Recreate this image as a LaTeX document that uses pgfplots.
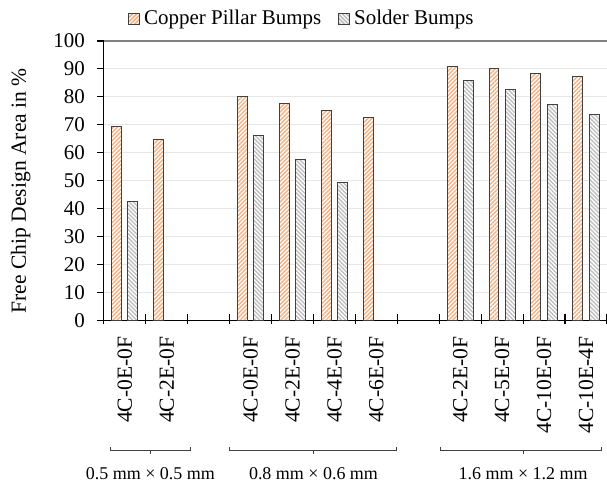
\documentclass[border=0pt]{standalone}
\usepackage{fontspec}
\setmainfont{Liberation Serif}
\usepackage{pgfplots}
\pgfplotsset{compat=1.18}
\usetikzlibrary{patterns.meta}
\definecolor{cuc}{HTML}{F4B183}
\definecolor{sbc}{HTML}{BFBFBF}
\definecolor{edgec}{HTML}{404040}
\definecolor{gridc}{HTML}{E6E6E6}
\begin{document}
\begin{tikzpicture}
\begin{axis}[
  scale only axis, width=252pt, height=140pt,
  xmin=-0.5, xmax=11.5, ymin=0, ymax=100,
  clip=false,
  axis x line*=bottom, axis y line*=left,
  axis line style={black, line width=0.6pt},
  ytick={0,10,...,100},
  ymajorgrids, grid style={gridc, line width=0.6pt},
  tick align=outside,
  major tick length=3.5pt,
  minor tick length=5.3pt,
  tick style={black, line width=0.6pt},
  xtick={0,...,11},
  xticklabels={4C-0E-0F,4C-2E-0F,{},4C-0E-0F,4C-2E-0F,4C-4E-0F,4C-6E-0F,{},4C-2E-0F,4C-5E-0F,4C-10E-0F,4C-10E-4F},
  major x tick style={draw=none},
  minor xtick={-0.5,0.5,...,11.5},
  minor x tick style={yshift=3.3pt},
  xticklabel style={rotate=90, anchor=east, font=\fontsize{10.8}{12}\selectfont},
  xticklabel shift=1pt,
  yticklabel style={font=\fontsize{10.5}{12}\selectfont},
  yticklabel shift=2.5pt,
  /pgf/number format/assume math mode=true,
  ylabel={Free Chip Design Area in \%},
  ylabel style={font=\fontsize{10.8}{12}\selectfont, at={(axis description cs:-0.165,0.464)}, anchor=center, rotate=0},
  ybar, bar width=5pt,
  legend columns=2,
  legend cell align=left,
  legend style={draw=none, fill=none, inner sep=0pt, at={(axis description cs:0.0476,1.078)}, anchor=west,
    font=\fontsize{10.5}{12}\selectfont,
    /tikz/every even column/.append style={column sep=6.5pt}},
]
\addplot[bar shift=-4.1pt, draw=edgec, line width=0.5pt, fill=white,
  postaction={pattern={Lines[angle=45,distance=1.45pt,line width=0.7pt]}, pattern color=cuc},
  legend image code/.code={\draw[draw=edgec, line width=0.5pt, fill=white, postaction={pattern={Lines[angle=45,distance=1.45pt,line width=0.7pt]}, pattern color=cuc}] (0pt,-2.75pt) rectangle (5.5pt,2.75pt);}]
  coordinates {(0,69.5) (1,64.9) (3,80.1) (4,77.7) (5,75.2) (6,72.6) (8,91.0) (9,90.0) (10,88.4) (11,87.3)};
\addlegendentry{Copper Pillar Bumps}
\addplot[bar shift=4.1pt, draw=edgec, line width=0.5pt, fill=white,
  postaction={pattern={Lines[angle=-45,distance=1.45pt,line width=0.7pt]}, pattern color=sbc},
  legend image code/.code={\draw[draw=edgec, line width=0.5pt, fill=white, postaction={pattern={Lines[angle=-45,distance=1.45pt,line width=0.7pt]}, pattern color=sbc}] (0pt,-2.75pt) rectangle (5.5pt,2.75pt);}]
  coordinates {(0,42.7) (3,66.2) (4,57.5) (5,49.2) (8,85.8) (9,82.6) (10,77.3) (11,73.7)};
\addlegendentry{Solder Bumps}
% top border line
\draw[gray, line width=0.6pt] (rel axis cs:0,1) -- (rel axis cs:1,1);
% group brackets
\draw[edgec, line width=0.5pt] ([yshift=-63.5pt]axis cs:-0.333,0) -- ([yshift=-65pt]axis cs:-0.333,0) -- ([yshift=-65pt]axis cs:1.571,0) -- ([yshift=-63.5pt]axis cs:1.571,0);
\draw[edgec, line width=0.5pt] ([yshift=-65pt]axis cs:0.61,0) -- ([yshift=-67pt]axis cs:0.61,0);
\node[font=\fontsize{9}{10}\selectfont] at ([yshift=-76.5pt]axis cs:0.61,0) {0.5 mm × 0.5 mm};
\draw[edgec, line width=0.5pt] ([yshift=-63.5pt]axis cs:2.5,0) -- ([yshift=-65pt]axis cs:2.5,0) -- ([yshift=-65pt]axis cs:6.48,0) -- ([yshift=-63.5pt]axis cs:6.48,0);
\draw[edgec, line width=0.5pt] ([yshift=-65pt]axis cs:4.5,0) -- ([yshift=-67pt]axis cs:4.5,0);
\node[font=\fontsize{9}{10}\selectfont] at ([yshift=-76.5pt]axis cs:4.5,0) {0.8 mm × 0.6 mm};
\draw[edgec, line width=0.5pt] ([yshift=-63.5pt]axis cs:7.52,0) -- ([yshift=-65pt]axis cs:7.52,0) -- ([yshift=-65pt]axis cs:11.38,0) -- ([yshift=-63.5pt]axis cs:11.38,0);
\draw[edgec, line width=0.5pt] ([yshift=-65pt]axis cs:9.5,0) -- ([yshift=-67pt]axis cs:9.5,0);
\node[font=\fontsize{9}{10}\selectfont] at ([yshift=-76.5pt]axis cs:9.5,0) {1.6 mm × 1.2 mm};
\end{axis}
\pgfresetboundingbox
\path (current axis.south west) ++(-52pt,-81pt) rectangle ++(304pt,241.5pt);
\end{tikzpicture}
\end{document}
